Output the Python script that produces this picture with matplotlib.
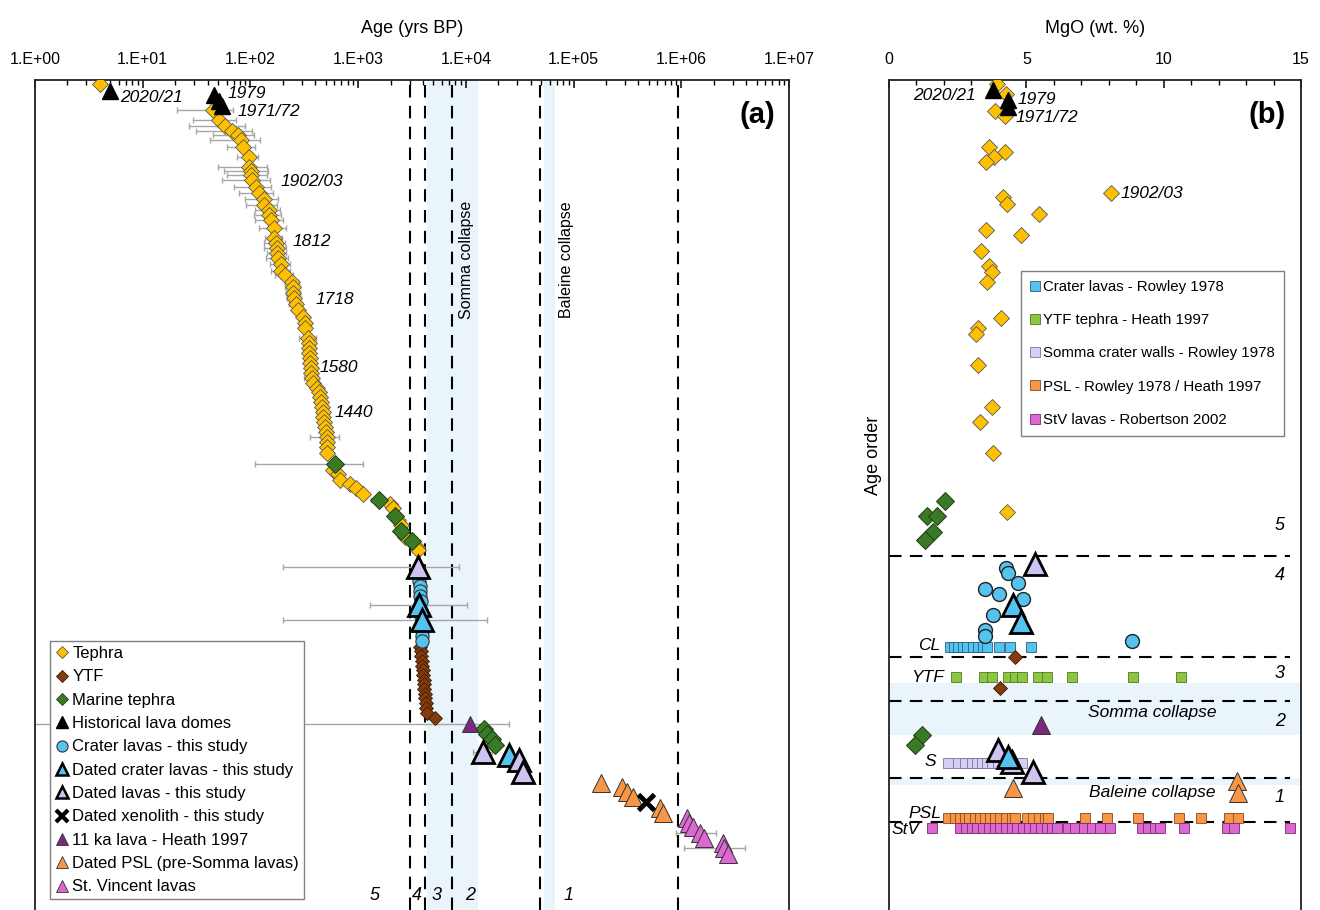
import numpy as np
import matplotlib
matplotlib.use('Agg')
import matplotlib.pyplot as plt
from matplotlib.lines import Line2D
from matplotlib.ticker import FixedLocator, LogLocator, FuncFormatter, NullFormatter, MultipleLocator

plt.rcParams['font.family'] = ['Liberation Sans', 'DejaVu Sans']

# ---------------- Panel (a) data: age (yrs BP) vs age order ----------------
tephra_age = [4, 45, 51, 58, 67, 76, 82, 85, 96, 96, 101, 101, 103, 113, 121, 134, 134, 149, 150, 155,
              167, 167, 173, 175, 178, 182, 192, 194, 210, 242, 246, 250, 254, 265, 278, 306, 322, 322,
              345, 350, 352, 352, 357, 357, 363, 363, 371, 379, 413, 437, 443, 450, 460, 469, 475, 486,
              493, 504, 511, 518, 518, 511, 589, 655, 679, 841, 957, 1104, 1978, 2095, 2362, 2486, 2727,
              3502, 3625]
tephra_order = [84, 110, 120, 126, 131, 135, 140, 147, 157, 167, 171, 175, 180, 187, 193, 199, 205, 210,
                215, 220, 228, 238, 243, 248, 253, 258, 264, 271, 275, 282, 287, 293, 298, 304, 310, 317,
                323, 328, 338, 343, 348, 353, 358, 363, 368, 373, 378, 383, 388, 392, 397, 402, 407, 412,
                417, 422, 427, 432, 437, 442, 447, 453, 470, 474, 480, 484, 488, 494, 504, 508, 520, 525,
                537, 547, 550]
tephra_err = [0, 24, 22, 31, 36, 31, 40, 25, 21, 46, 44, 41, 48, 42, 42, 45, 43, 39, 42, 45,
              46, 30, 38, 40, 37, 42, 40, 40, 41, 34, 35, 37, 37, 37, 0, 0, 0, 0,
              60, 0, 0, 0, 0, 0, 0, 0, 57, 0, 0, 0, 0, 0, 0, 0, 0, 0,
              0, 0, 150, 0, 0, 0, 0, 0, 0, 0, 0, 0, 0, 0, 0, 0, 0,
              0, 0]

ytf_age = [3750, 3800, 3850, 3900, 3950, 3980, 4000, 4050, 4080, 4100, 4150, 4200, 4250, 4300, 4350, 5170]
ytf_order = [647, 651, 656, 661, 666, 670, 675, 680, 684, 689, 694, 698, 703, 708, 713, 718]

marine_age = [611, 1574, 2203, 2502, 3148, 14760, 15860, 17400, 18670]
marine_order = [464, 500, 516, 531, 541, 729, 734, 739, 745]
marine_err = [500, 250, 250, 200, 0, 1500, 1500, 1500, 1200]

dome_age = [5, 46, 51, 55]
dome_order = [91, 95, 101, 106]

crater_age = [3700, 3700, 3750, 3750, 3750, 3800, 3800, 3850, 3850, 3900, 3900, 3950]
crater_order = [576, 581, 586, 591, 596, 601, 611, 616, 626, 631, 636, 641]

dcrater_age = [3700, 3900, 25350]
dcrater_order = [605, 620, 755]
dcrater_err_lo = [2410, 3698, 2000]
dcrater_err_hi = [6490, 11700, 2000]

dlava_age = [3625, 14550, 31400, 33700]
dlava_order = [567, 752, 760, 772]
dlava_err_lo = [3423, 3000, 1500, 2000]
dlava_err_hi = [5075, 3000, 1500, 2000]

xeno_age = [471000]
xeno_order = [802]

ka11_age = [11000]
ka11_order = [724]
ka11_err_hi = [14350]

psl_age = [179000, 280000, 312000, 355000, 635000, 682000]
psl_order = [783, 787, 792, 797, 808, 813]

stv_age = [1125000, 1190000, 1295000, 1495000, 1630000, 2430000, 2500000, 2740000]
stv_order = [818, 823, 827, 833, 838, 843, 848, 854]
stv_err = [0, 0, 0, 600000, 0, 0, 1430000, 0]

boundary_ages = [3000, 4180, 7400, 48900, 930000]
somma_band = [4370, 12900]
baleine_band = [53200, 67300]
decade_ticks = [1e0, 1e1, 1e2, 1e3, 1e4, 1e5, 1e6, 1e7]

# ---------------- Panel (b) data: MgO (wt.%) vs age order ----------------
b_tephra_mgo = [3.92, 4.26, 3.86, 4.22, 3.65, 4.22, 3.84, 3.53, 8.07, 4.16, 4.31, 5.47, 3.53, 4.79,
                3.34, 3.64, 3.74, 3.58, 4.08, 3.23, 3.16, 3.25, 3.76, 3.31, 3.77, 4.28]
b_tephra_order = [84, 94, 111, 116, 147, 152, 157, 162, 193, 197, 204, 214, 230, 235, 251, 266, 272,
                  282, 318, 328, 334, 365, 407, 422, 453, 512]
b_dome_mgo = [3.77, 4.35, 4.35]
b_dome_order = [90, 100, 107]
b_marine_mgo = [2.04, 1.37, 1.74, 1.61, 1.31, 1.19, 0.95]
b_marine_order = [501, 516, 516, 532, 540, 735, 745]
b_crater_mgo = [4.26, 4.35, 4.71, 3.49, 4.02, 4.87, 3.80, 3.49, 3.49, 8.84]
b_crater_order = [568, 573, 583, 589, 594, 599, 615, 630, 636, 641]
b_dcrater_mgo = [4.50, 4.81, 4.32]
b_dcrater_order = [605, 622, 757]
b_dlava_mgo = [5.31, 3.98, 4.47, 5.25]
b_dlava_order = [564, 750, 762, 772]
b_ytf_mgo = [4.59, 4.04]
b_ytf_order = [657, 688]
b_ka11_mgo = [5.53]
b_ka11_order = [725]
b_psl_mgo = [4.53, 12.68, 12.72]
b_psl_order = [788, 781, 793]

cl_rowley = [2.22, 2.37, 2.53, 2.68, 2.85, 3.07, 3.25, 3.41, 3.56, 4.02, 4.41, 5.17]
ytf_heath = [2.44, 3.46, 3.74, 4.32, 4.59, 4.83, 5.44, 5.74, 6.67, 8.90, 10.62]
somma_rowley = [2.14, 2.52, 2.77, 3.01, 3.19, 3.37, 3.56, 3.74, 3.98, 4.22, 4.47, 4.65, 4.83]
psl_lit = [2.16, 2.40, 2.58, 2.77, 2.92, 3.13, 3.31, 3.49, 3.68, 3.86, 4.04, 4.26, 4.47, 4.59, 5.01,
           5.25, 5.47, 5.68, 5.80, 7.14, 7.93, 9.08, 10.56, 11.35, 12.39, 12.72]
stv_robertson = [1.55, 2.58, 2.80, 3.01, 3.22, 3.43, 3.65, 3.86, 4.04, 4.26, 4.47, 4.67, 4.89, 5.11,
                 5.31, 5.52, 5.74, 5.92, 6.10, 6.53, 6.77, 7.10, 7.38, 7.68, 8.05, 9.20, 9.44, 9.68,
                 9.87, 10.74, 12.29, 12.57, 14.6]
row_order = {'CL': 647, 'YTF': 677, 'S': 763, 'PSL': 818, 'StV': 828}

b_boundaries = [556, 657, 701, 778, 822]
b_somma_band = [683, 735]
b_baleine_band = [778, 785]

# ---------------- styles ----------------
C_TEPH = '#ffc000'
C_YTF = '#843c0c'
C_MAR = '#3a7a26'
C_CRAT = '#55c3ef'
C_LIL = '#cfc3f2'
C_PUR = '#7a2a7c'
C_PSL = '#f79646'
C_STV = '#dc68d2'
C_BAND = '#eaf4fb'
C_ERR = '#a6a6a6'
C_YTFSQ = '#8dc63f'
C_SOMSQ = '#d6cff4'

W, H = 1320, 910
fig = plt.figure(figsize=(W / 100, H / 100), dpi=100)


def fx(px):
    return px / W


def fy(py):
    return 1 - py / H


axA = fig.add_axes([fx(35), 0, (789 - 35) / W, (H - 80) / H])
axB = fig.add_axes([fx(889), 0, (1301 - 889) / W, (H - 80) / H])

for ax in (axA, axB):
    ax.set_ylim(910, 80)
    ax.spines['bottom'].set_visible(False)
    for s in ('top', 'left', 'right'):
        ax.spines[s].set_linewidth(1.3)
        ax.spines[s].set_color('#222222')
    ax.yaxis.set_visible(False)
    ax.xaxis.set_ticks_position('top')
    ax.xaxis.set_label_position('top')
    ax.tick_params(axis='x', which='both', direction='in', top=True, bottom=False,
                   labeltop=True, labelbottom=False, labelsize=11.5, pad=9)
    ax.tick_params(axis='x', which='major', length=6, width=1.1)
    ax.tick_params(axis='x', which='minor', length=3.5, width=1.0)

# ---------------- Panel (a) ----------------
axA.set_xscale('log')
axA.set_xlim(1, 1e7)
axA.xaxis.set_major_locator(FixedLocator(decade_ticks))
axA.xaxis.set_major_formatter(FuncFormatter(lambda v, p: '1.E+%02d' % int(round(np.log10(v)))))
axA.xaxis.set_minor_locator(LogLocator(base=10, subs=np.arange(2, 10)))
axA.xaxis.set_minor_formatter(NullFormatter())
axA.set_xlabel('Age (yrs BP)', fontsize=13, labelpad=14)

axA.axvspan(somma_band[0], somma_band[1], color=C_BAND, zorder=0, lw=0)
axA.axvspan(baleine_band[0], baleine_band[1], color=C_BAND, zorder=0, lw=0)
for b in boundary_ages:
    axA.axvline(b, color='black', lw=1.5, ls=(0, (6, 4)), zorder=1)

# error bars
t_age = np.array(tephra_age, float)
t_ord = np.array(tephra_order, float)
t_err = np.array(tephra_err, float)
m = t_err > 0
axA.errorbar(t_age[m], t_ord[m], xerr=t_err[m], fmt='none', ecolor=C_ERR, elinewidth=1, capsize=2, zorder=2)
ma = np.array(marine_age, float); mo = np.array(marine_order, float); me = np.array(marine_err, float)
mm = me > 0
axA.errorbar(ma[mm], mo[mm], xerr=me[mm], fmt='none', ecolor=C_ERR, elinewidth=1, capsize=2, zorder=2)
axA.errorbar(dcrater_age, dcrater_order, xerr=[dcrater_err_lo, dcrater_err_hi], fmt='none',
             ecolor=C_ERR, elinewidth=1, capsize=2, zorder=2)
axA.errorbar(dlava_age, dlava_order, xerr=[dlava_err_lo, dlava_err_hi], fmt='none',
             ecolor=C_ERR, elinewidth=1, capsize=2, zorder=2)
axA.errorbar(ka11_age, ka11_order, xerr=[[a - 0.5 for a in ka11_age], ka11_err_hi], fmt='none',
             ecolor=C_ERR, elinewidth=1, capsize=2, zorder=2)
sa = np.array(stv_age, float); so = np.array(stv_order, float); se = np.array(stv_err, float)
sm = se > 0
axA.errorbar(sa[sm], so[sm], xerr=se[sm], fmt='none', ecolor=C_ERR, elinewidth=1, capsize=2, zorder=2)

ek = dict(ls='none')
axA.plot(tephra_age, tephra_order, marker='D', ms=7.8, mfc=C_TEPH, mec='#555555', mew=0.6, zorder=4, **ek)
axA.plot(ytf_age, ytf_order, marker='D', ms=7.2, mfc=C_YTF, mec='#3a1a05', mew=0.6, zorder=4, **ek)
axA.plot(marine_age, marine_order, marker='D', ms=9, mfc=C_MAR, mec='#1d3d12', mew=0.7, zorder=5, **ek)
axA.plot(dome_age, dome_order, marker='^', ms=11.5, mfc='black', mec='black', zorder=6, **ek)
axA.plot(crater_age, crater_order, marker='o', ms=9.5, mfc=C_CRAT, mec='#333333', mew=0.8, zorder=5, **ek)
axA.plot(dcrater_age, dcrater_order, marker='^', ms=15.5, mfc=C_CRAT, mec='black', mew=2, zorder=6, **ek)
axA.plot(dlava_age, dlava_order, marker='^', ms=15.5, mfc=C_LIL, mec='black', mew=2, zorder=6, **ek)
axA.plot(xeno_age, xeno_order, marker='x', ms=12, mec='black', mew=3.5, zorder=7, **ek)
axA.plot(ka11_age, ka11_order, marker='^', ms=12, mfc=C_PUR, mec='#333333', mew=0.7, zorder=6, **ek)
axA.plot(psl_age, psl_order, marker='^', ms=12.5, mfc=C_PSL, mec='#333333', mew=0.7, zorder=6, **ek)
axA.plot(stv_age, stv_order, marker='^', ms=12.5, mfc=C_STV, mec='#333333', mew=0.7, zorder=6, **ek)

# legend (a)
hA = [
    Line2D([], [], ls='none', marker='D', ms=6, mfc=C_TEPH, mec='#555555', mew=0.6, label='Tephra'),
    Line2D([], [], ls='none', marker='D', ms=6, mfc=C_YTF, mec='#3a1a05', mew=0.6, label='YTF'),
    Line2D([], [], ls='none', marker='D', ms=6, mfc=C_MAR, mec='#1d3d12', mew=0.6, label='Marine tephra'),
    Line2D([], [], ls='none', marker='^', ms=8, mfc='black', mec='black', label='Historical lava domes'),
    Line2D([], [], ls='none', marker='o', ms=8, mfc=C_CRAT, mec='#333333', mew=0.8, label='Crater lavas - this study'),
    Line2D([], [], ls='none', marker='^', ms=9, mfc=C_CRAT, mec='black', mew=1.8, label='Dated crater lavas - this study'),
    Line2D([], [], ls='none', marker='^', ms=9, mfc=C_LIL, mec='black', mew=1.8, label='Dated lavas - this study'),
    Line2D([], [], ls='none', marker='x', ms=8, mec='black', mew=3, label='Dated xenolith - this study'),
    Line2D([], [], ls='none', marker='^', ms=8, mfc=C_PUR, mec='#333333', mew=0.6, label='11 ka lava - Heath 1997'),
    Line2D([], [], ls='none', marker='^', ms=8, mfc=C_PSL, mec='#333333', mew=0.6, label='Dated PSL (pre-Somma lavas)'),
    Line2D([], [], ls='none', marker='^', ms=8, mfc=C_STV, mec='#333333', mew=0.6, label='St. Vincent lavas'),
]
legA = axA.legend(handles=hA, loc='upper left', bbox_to_anchor=(fx(50), fy(641)), bbox_transform=fig.transFigure,
                  frameon=True, fancybox=False, edgecolor='#808080', framealpha=1, fontsize=12,
                  handlelength=0.8, handletextpad=0.25, labelspacing=0.5, borderpad=0.3, borderaxespad=0)
legA.get_frame().set_linewidth(1.0)
legA.set_zorder(10)

it = dict(style='italic', va='center', transform=fig.transFigure)
fig.text(fx(120), fy(98), '2020/21', fontsize=12.5, ha='left', **it)
fig.text(fx(228), fy(93), '1979', fontsize=12.5, ha='left', **it)
fig.text(fx(238), fy(111), '1971/72', fontsize=12.5, ha='left', **it)
fig.text(fx(281), fy(182), '1902/03', fontsize=12.5, ha='left', **it)
fig.text(fx(293), fy(242), '1812', fontsize=12.5, ha='left', **it)
fig.text(fx(316), fy(300), '1718', fontsize=12.5, ha='left', **it)
fig.text(fx(320), fy(368), '1580', fontsize=12.5, ha='left', **it)
fig.text(fx(335), fy(413), '1440', fontsize=12.5, ha='left', **it)
fig.text(fx(757), fy(115), '(a)', fontsize=21, fontweight='bold', ha='center', va='center')
fig.text(fx(466), fy(260), 'Somma collapse', fontsize=11.5, rotation=90, ha='center', va='center')
fig.text(fx(566), fy(260), 'Baleine collapse', fontsize=11.5, rotation=90, ha='center', va='center')
for lab, xp in (('5', 375), ('4', 417), ('3', 437), ('2', 470), ('1', 569)):
    fig.text(fx(xp), fy(895), lab, fontsize=13, ha='center', **it)

# ---------------- Panel (b) ----------------
axB.set_xlim(0, 15)
axB.xaxis.set_major_locator(MultipleLocator(5))
axB.xaxis.set_minor_locator(MultipleLocator(1))
axB.set_xlabel('MgO (wt. %)', fontsize=13, labelpad=14)

axB.axhspan(b_somma_band[0], b_somma_band[1], color=C_BAND, zorder=0, lw=0)
axB.axhspan(b_baleine_band[0], b_baleine_band[1], color=C_BAND, zorder=0, lw=0)
for b in b_boundaries:
    axB.axhline(b, xmin=0, xmax=0.973, color='black', lw=1.5, ls=(0, (6, 4)), zorder=1)

sq = dict(ls='none', marker='s', ms=7, mew=0.6, zorder=3)
axB.plot(cl_rowley, [row_order['CL']] * len(cl_rowley), mfc=C_CRAT, mec='#2b5d7a', **sq)
axB.plot(ytf_heath, [row_order['YTF']] * len(ytf_heath), mfc=C_YTFSQ, mec='#4a7a20', **sq)
axB.plot(somma_rowley, [row_order['S']] * len(somma_rowley), mfc=C_SOMSQ, mec='#7a70a0', **sq)
axB.plot(psl_lit, [row_order['PSL']] * len(psl_lit), mfc=C_PSL, mec='#8a4a1a', **sq)
axB.plot(stv_robertson, [row_order['StV']] * len(stv_robertson), mfc=C_STV, mec='#7a2a70', **sq)

axB.plot(b_tephra_mgo, b_tephra_order, marker='D', ms=7.8, mfc=C_TEPH, mec='#555555', mew=0.6, zorder=4, **ek)
axB.plot(b_marine_mgo, b_marine_order, marker='D', ms=9, mfc=C_MAR, mec='#1d3d12', mew=0.7, zorder=4, **ek)
axB.plot(b_ytf_mgo, b_ytf_order, marker='D', ms=7.2, mfc=C_YTF, mec='#3a1a05', mew=0.6, zorder=5, **ek)
axB.plot(b_dome_mgo, b_dome_order, marker='^', ms=11.5, mfc='black', mec='black', zorder=6, **ek)
axB.plot(b_crater_mgo, b_crater_order, marker='o', ms=10, mfc=C_CRAT, mec='#222222', mew=1.0, zorder=5, **ek)
axB.plot(b_dlava_mgo, b_dlava_order, marker='^', ms=15.5, mfc=C_LIL, mec='black', mew=2, zorder=6, **ek)
axB.plot(b_dcrater_mgo, b_dcrater_order, marker='^', ms=15.5, mfc=C_CRAT, mec='black', mew=2, zorder=7, **ek)
axB.plot(b_ka11_mgo, b_ka11_order, marker='^', ms=12.5, mfc=C_PUR, mec='#333333', mew=0.7, zorder=6, **ek)
axB.plot(b_psl_mgo, b_psl_order, marker='^', ms=12.5, mfc=C_PSL, mec='#333333', mew=0.7, zorder=6, **ek)

hB = [
    Line2D([], [], ls='none', marker='s', ms=7, mfc=C_CRAT, mec='#2b5d7a', mew=0.6, label='Crater lavas - Rowley 1978'),
    Line2D([], [], ls='none', marker='s', ms=7, mfc=C_YTFSQ, mec='#4a7a20', mew=0.6, label='YTF tephra - Heath 1997'),
    Line2D([], [], ls='none', marker='s', ms=7, mfc=C_SOMSQ, mec='#7a70a0', mew=0.6, label='Somma crater walls - Rowley 1978'),
    Line2D([], [], ls='none', marker='s', ms=7, mfc=C_PSL, mec='#8a4a1a', mew=0.6, label='PSL - Rowley 1978 / Heath 1997'),
    Line2D([], [], ls='none', marker='s', ms=7, mfc=C_STV, mec='#7a2a70', mew=0.6, label='StV lavas - Robertson 2002'),
]
legB = axB.legend(handles=hB, loc='upper left', bbox_to_anchor=(fx(1021), fy(271)), bbox_transform=fig.transFigure,
                  frameon=True, fancybox=False, edgecolor='#808080', framealpha=1, fontsize=10.8,
                  handlelength=0.6, handletextpad=0.25, labelspacing=1.28, borderpad=0.6, borderaxespad=0)
legB.get_frame().set_linewidth(1.0)

fig.text(fx(976), fy(96), '2020/21', fontsize=12.5, ha='right', **it)
fig.text(fx(1018), fy(100), '1979', fontsize=12.5, ha='left', **it)
fig.text(fx(1016), fy(117), '1971/72', fontsize=12.5, ha='left', **it)
fig.text(fx(1121), fy(193), '1902/03', fontsize=12.5, ha='left', **it)
fig.text(fx(1267), fy(115), '(b)', fontsize=21, fontweight='bold', ha='center', va='center')
for lab, yp in (('5', 525), ('4', 575), ('3', 673), ('2', 722), ('1', 798)):
    fig.text(fx(1280), fy(yp), lab, fontsize=13, ha='center', **it)
fig.text(fx(940), fy(646), 'CL', fontsize=12.5, ha='right', **it)
fig.text(fx(944), fy(677), 'YTF', fontsize=12.5, ha='right', **it)
fig.text(fx(930), fy(761), 'S', fontsize=12.5, ha='center', **it)
fig.text(fx(941), fy(814), 'PSL', fontsize=12.5, ha='right', **it)
fig.text(fx(920), fy(830), 'StV', fontsize=12.5, ha='right', **it)
fig.text(fx(1152), fy(713), 'Somma collapse', fontsize=12.5, ha='center', **it)
fig.text(fx(1152), fy(793), 'Baleine collapse', fontsize=12.5, ha='center', **it)
fig.text(fx(873), fy(455), 'Age order', fontsize=13, rotation=90, ha='center', va='center')

fig.savefig('out.png', dpi=100)
